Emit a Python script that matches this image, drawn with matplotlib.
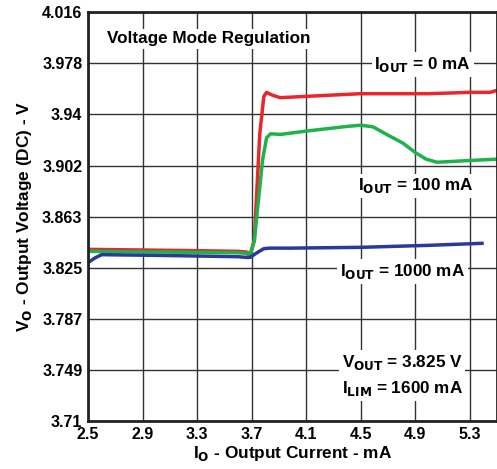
import numpy as np
import matplotlib.pyplot as plt

plt.rcParams['font.family'] = ['Liberation Sans', 'DejaVu Sans']
plt.rcParams['font.weight'] = 'bold'

# Datos
x_red = [2.5, 2.9, 3.3, 3.6, 3.66, 3.69, 3.72, 3.76, 3.79, 3.81, 3.85, 3.91, 4.1, 4.5, 5.0, 5.3, 5.45, 5.5]
y_red = [3.8385, 3.838, 3.8375, 3.837, 3.8365, 3.835, 3.845, 3.925, 3.953, 3.956, 3.954, 3.952, 3.953, 3.955, 3.955, 3.956, 3.956, 3.9575]

x_green = [2.5, 3.0, 3.6, 3.66, 3.69, 3.72, 3.78, 3.81, 3.84, 3.91, 4.1, 4.4, 4.5, 4.59, 4.7, 4.81, 4.9, 4.98, 5.06, 5.3, 5.5]
y_green = [3.837, 3.8365, 3.836, 3.8355, 3.834, 3.845, 3.905, 3.922, 3.925, 3.9245, 3.927, 3.9305, 3.9314, 3.9302, 3.924, 3.918, 3.911, 3.906, 3.9037, 3.905, 3.906]

x_blue = [2.5, 2.55, 2.6, 3.0, 3.6, 3.66, 3.69, 3.74, 3.79, 3.83, 3.98, 4.5, 5.0, 5.39]
y_blue = [3.8285, 3.832, 3.8345, 3.834, 3.833, 3.8325, 3.8325, 3.836, 3.839, 3.8394, 3.8394, 3.840, 3.8415, 3.843]

x_ticks = [2.5, 2.9, 3.3, 3.7, 4.1, 4.5, 4.9, 5.3]
y_labels = ["3.71", "3.749", "3.787", "3.825", "3.863", "3.902", "3.94", "3.978", "4.016"]

fig = plt.figure(figsize=(4.97, 4.69), dpi=100)
ax = fig.add_axes([0.177, 0.1023, 0.823, 0.8717])

ax.plot(x_red, y_red, color='#e8262b', lw=2.5)
ax.plot(x_green, y_green, color='#1db34a', lw=2.5)
ax.plot(x_blue, y_blue, color='#2b3a98', lw=2.5)

ax.set_xlim(2.5, 5.5)
ax.set_ylim(3.71, 4.016)
ax.set_xticks(x_ticks)
ax.set_xticklabels([f"{v:.1f}" for v in x_ticks], fontsize=11.5, fontweight='bold')
y_ticks = np.linspace(3.71, 4.016, 9)
ax.set_yticks(y_ticks)
ax.set_yticklabels(y_labels, fontsize=11.5, fontweight='bold')
ax.tick_params(length=0, pad=4)
ax.grid(True, color='#333333', lw=1)
for s in ax.spines.values():
    s.set_linewidth(2)
    s.set_color('#222222')

ax.set_xlabel(r"I$_\mathbf{O}$ - Output Current - mA", fontsize=12.4, fontweight='bold', labelpad=2)
ax.set_ylabel(r"V$_\mathbf{O}$ - Output Voltage (DC) - V", fontsize=12.4, fontweight='bold', labelpad=6)

box = dict(facecolor='white', edgecolor='none', pad=2)
fs = 12.3
ax.text(2.64, 3.996, "Voltage Mode Regulation", fontsize=fs, fontweight='bold', va='center', bbox=box)
ax.text(4.60, 3.977, r"I$_\mathbf{OUT}$ = 0 mA", fontsize=fs, fontweight='bold', va='center', bbox=box)
ax.text(4.48, 3.886, r"I$_\mathbf{OUT}$ = 100 mA", fontsize=fs, fontweight='bold', va='center', bbox=box)
ax.text(4.35, 3.822, r"I$_\mathbf{OUT}$ = 1000 mA", fontsize=fs, fontweight='bold', va='center', bbox=box)
ax.text(4.36, 3.744, r"V$_\mathbf{OUT}$ = 3.825 V" + "\n" + r"I$_\mathbf{LIM}$ = 1600 mA",
        fontsize=fs, fontweight='bold', va='center', linespacing=1.5, bbox=box)

plt.savefig("out.png", dpi=100)
